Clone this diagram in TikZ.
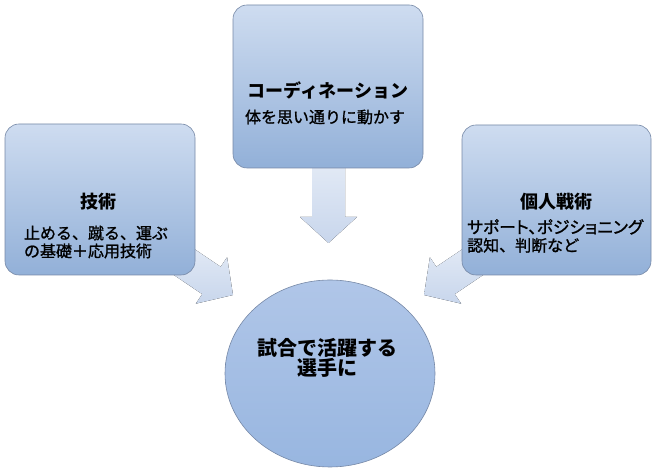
\documentclass[tikz,border=0pt]{standalone}
\usepackage{fontspec}
\setmainfont{Noto Sans CJK JP}
\newfontfamily\medfont{Noto Sans CJK JP}[FakeBold=1.2]
\newfontfamily\medpaltfont{Noto Sans CJK JP}[FakeBold=1.2,RawFeature=+palt]
\usetikzlibrary{calc,shapes.geometric}
\definecolor{boxtop}{RGB}{206,220,240}
\definecolor{boxbot}{RGB}{146,176,216}
\definecolor{boxline}{RGB}{118,136,166}
\definecolor{arrtop}{RGB}{228,235,246}
\definecolor{arrbot}{RGB}{200,214,236}
\definecolor{circtop}{RGB}{176,198,232}
\definecolor{circbot}{RGB}{152,182,224}
\begin{document}
\begin{tikzpicture}[x=1pt,y=1pt,
  boxstyle/.style={draw=boxline, line width=0.6pt, rounded corners=14pt,
    top color=boxtop, bottom color=boxbot, inner sep=0pt},
  circstyle/.style={ellipse, draw=boxline, line width=0.6pt,
    top color=circtop, bottom color=circbot, inner sep=0pt},
  titletext/.style={font=\fontsize{18}{20}\selectfont\bfseries, text=black, inner sep=0pt},
  subtext/.style={font=\fontsize{16}{18}\selectfont\medfont, text=black, inner sep=0pt, align=left},
  centertext/.style={font=\fontsize{20}{19}\selectfont\bfseries, text=black, inner sep=0pt, align=center},
  blockarrow/.style={top color=arrtop, bottom color=arrbot, draw=none}
]
\useasboundingbox (0,0) rectangle (656,470);

% tips of the block arrows
\coordinate (ltip) at (233,175);
\coordinate (ttip) at (328.5,227);
\coordinate (rtip) at (424,175);

% block arrows (drawn first, behind boxes)
\begin{scope}[shift={(ltip)}, rotate=-34]
  \fill[blockarrow] (-72,16.5) -- (-26,16.5) -- (-26,28) -- (0,0) -- (-26,-28) -- (-26,-16.5) -- (-72,-16.5) -- cycle;
\end{scope}
\begin{scope}[shift={(ttip)}, rotate=-90]
  \fill[blockarrow] (-85,16.5) -- (-26,16.5) -- (-26,28.5) -- (0,0) -- (-26,-28.5) -- (-26,-16.5) -- (-85,-16.5) -- cycle;
\end{scope}
\begin{scope}[shift={(rtip)}, rotate=214]
  \fill[blockarrow] (-72,16.5) -- (-26,16.5) -- (-26,28) -- (0,0) -- (-26,-28) -- (-26,-16.5) -- (-72,-16.5) -- cycle;
\end{scope}

% boxes
\node[boxstyle, minimum width=190pt, minimum height=151pt] (lbox) at (100,270.5) {};
\node[boxstyle, minimum width=190pt, minimum height=163pt] (tbox) at (328,383.5) {};
\node[boxstyle, minimum width=189pt, minimum height=150pt] (rbox) at (556.5,270) {};
\node[circstyle, minimum width=210pt, minimum height=187pt] (goal) at (330,96.5) {};

% texts
\node[titletext] (ltitle) at (98,268) {技術};
\node[subtext] (lsub) at (96,228) {止める、蹴る、運ぶ\\の基礎＋応用技術};

\node[titletext] (ttitle) at (328,380) {コーディネーション};
\node[subtext] (tsub) at (325,353) {体を思い通りに動かす};

\node[titletext] (rtitle) at (556,268) {個人戦術};
\node[subtext, anchor=west] (rsub) at (467,234) {{\fontsize{16.8}{18}\selectfont\medpaltfont サポート、ポジショニング}\\認知、判断など};

\node[centertext] (gtext) at (327,112.5) {試合で活躍する\\選手に};
\end{tikzpicture}
\end{document}
